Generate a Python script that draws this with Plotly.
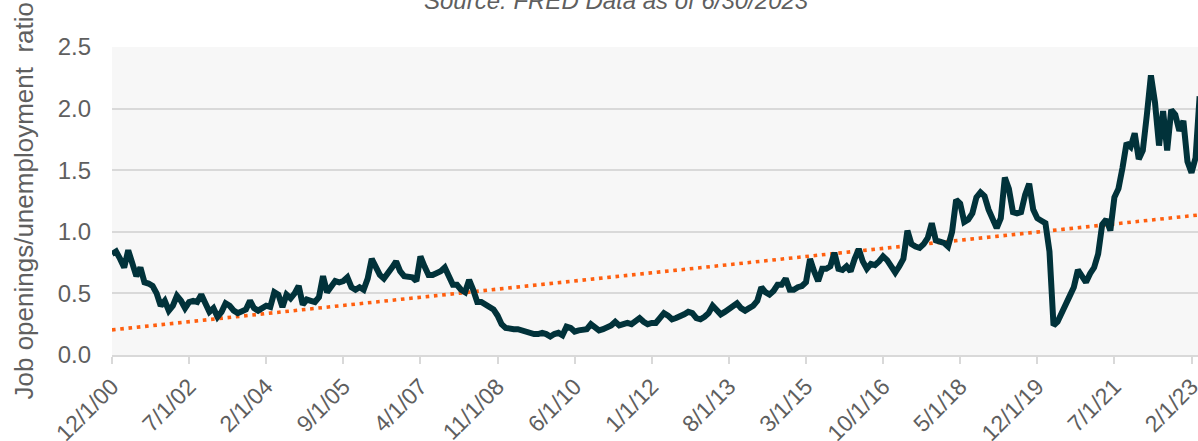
import numpy as np
import pandas as pd
import plotly.graph_objects as go

# Monthly categories, Dec 2000 .. Apr 2023
month_dates = pd.date_range("2000-12-01", "2023-04-01", freq="MS")
months = [f"{d.month}/{d.day}/{d.year % 100:02d}" for d in month_dates]

# Job openings / unemployment ratio
ratio = [
    0.82, 0.84, 0.78, 0.71, 0.85, 0.76, 0.64, 0.71, 0.59, 0.58, 0.56, 0.50,
    0.40, 0.44, 0.36, 0.40, 0.48, 0.44, 0.38, 0.43, 0.44, 0.43, 0.49, 0.42,
    0.35, 0.38, 0.31, 0.35, 0.42, 0.40, 0.36, 0.34, 0.36, 0.37, 0.44, 0.38,
    0.36, 0.38, 0.40, 0.39, 0.51, 0.49, 0.39, 0.49, 0.46, 0.50, 0.56, 0.41,
    0.45, 0.44, 0.43, 0.47, 0.64, 0.51, 0.55, 0.60, 0.59, 0.60, 0.63, 0.55,
    0.53, 0.55, 0.53, 0.62, 0.78, 0.70, 0.65, 0.62, 0.66, 0.71, 0.76, 0.68,
    0.64, 0.64, 0.63, 0.60, 0.80, 0.72, 0.65, 0.65, 0.66, 0.68, 0.71, 0.64,
    0.57, 0.57, 0.53, 0.51, 0.61, 0.53, 0.43, 0.43, 0.41, 0.38, 0.37, 0.32,
    0.25, 0.22, 0.21, 0.21, 0.21, 0.20, 0.19, 0.17, 0.17, 0.17, 0.18, 0.17,
    0.15, 0.17, 0.18, 0.16, 0.23, 0.22, 0.19, 0.20, 0.21, 0.21, 0.25, 0.23,
    0.20, 0.21, 0.22, 0.24, 0.27, 0.24, 0.25, 0.26, 0.25, 0.27, 0.30, 0.27,
    0.25, 0.26, 0.26, 0.30, 0.34, 0.32, 0.29, 0.30, 0.31, 0.33, 0.35, 0.34,
    0.30, 0.29, 0.31, 0.34, 0.40, 0.37, 0.33, 0.35, 0.37, 0.39, 0.42, 0.38,
    0.36, 0.38, 0.40, 0.44, 0.55, 0.51, 0.49, 0.52, 0.57, 0.57, 0.62, 0.53,
    0.53, 0.55, 0.56, 0.59, 0.78, 0.68, 0.60, 0.70, 0.70, 0.72, 0.83, 0.70,
    0.69, 0.72, 0.68, 0.78, 0.86, 0.76, 0.70, 0.74, 0.73, 0.76, 0.80, 0.77,
    0.72, 0.67, 0.72, 0.78, 1.01, 0.90, 0.88, 0.87, 0.90, 0.95, 1.07, 0.93,
    0.92, 0.91, 0.88, 1.00, 1.26, 1.23, 1.08, 1.10, 1.15, 1.28, 1.32, 1.29,
    1.18, 1.10, 1.03, 1.11, 1.44, 1.35, 1.16, 1.15, 1.16, 1.30, 1.39, 1.18,
    1.11, 1.09, 1.07, 0.84, 0.24, 0.27, 0.35, 0.42, 0.48, 0.55, 0.69, 0.64,
    0.59, 0.66, 0.71, 0.82, 1.06, 1.10, 1.01, 1.28, 1.35, 1.52, 1.72, 1.69,
    1.80, 1.59, 1.66, 1.95, 2.27, 2.05, 1.70, 1.98, 1.66, 1.99, 1.95, 1.82,
    1.90, 1.57, 1.48, 1.60, 2.10,
]

tick_labels = months[::19]
y_ticks = [0.0, 0.5, 1.0, 1.5, 2.0, 2.5]

title_text = "Source: FRED Data as of 6/30/2023"
y_title = "Job openings/unemployment\u00a0 ratio"

# linear trendline (least squares, like Excel's trendline)
idx = np.arange(len(ratio))
slope, intercept = np.polyfit(idx, np.array(ratio), 1)
trend = intercept + slope * idx

FONT = "Liberation Sans, Arial, sans-serif"
GREY = "#5f5f5f"
GRID = "#d9d9d9"

fig = go.Figure()
fig.add_trace(go.Scatter(
    x=months, y=trend, mode="lines",
    line=dict(color="#ff5f0f", width=3.6, dash="3.6px,4.7px"),
    hoverinfo="skip", showlegend=False,
))
fig.add_trace(go.Scatter(
    x=months, y=ratio, mode="lines",
    line=dict(color="#01323a", width=6),
    showlegend=False,
))

W, H = 1198, 441
L, R, T, B = 112, 0, 47, 86
fig.update_layout(
    width=W, height=H,
    margin=dict(l=L, r=R, t=T, b=B, pad=0, autoexpand=False),
    paper_bgcolor="white",
    plot_bgcolor="#f7f7f7",
    font=dict(family=FONT, color=GREY),
    showlegend=False,
)
fig.update_xaxes(
    type="category",
    range=[0, 267.6],
    automargin=False,
    tickmode="array", tickvals=tick_labels, ticktext=tick_labels,
    tickangle=-45,
    tickfont=dict(size=23, color=GREY, family=FONT),
    ticks="outside", ticklen=7, tickwidth=1.5, tickcolor=GRID,
    showline=True, linecolor=GRID, linewidth=2,
    showgrid=False, zeroline=False,
)
fig.update_yaxes(
    range=[0, 2.5],
    automargin=False,
    tickmode="array", tickvals=y_ticks, ticktext=[f"{v:.1f}" for v in y_ticks],
    tickfont=dict(size=24, color=GREY, family=FONT),
    ticks="", ticklabelstandoff=20,
    showgrid=True, gridcolor=GRID, gridwidth=1.6,
    zeroline=False, showline=False,
)

plot_h = H - T - B
plot_w = W - L - R

# y-axis title (rotated, centred on plot area)
fig.add_annotation(
    text=y_title, textangle=-90, showarrow=False,
    xref="paper", yref="paper",
    x=(23.5 - L) / plot_w, y=0.5,
    xanchor="center", yanchor="middle",
    font=dict(size=26, color=GREY, family=FONT),
)
# subtitle, mostly cut off at the top
fig.add_annotation(
    text=f"<i>{title_text}</i>", showarrow=False,
    xref="paper", yref="paper",
    x=(616.5 - L) / plot_w, y=(H - B - 0.5) / plot_h,
    xanchor="center", yanchor="middle",
    font=dict(size=24, color=GREY, family=FONT),
)

fig.write_html(
    "out.html",
    config={"displayModeBar": False},
    post_script="document.body.style.margin='0';document.body.style.overflow='hidden';",
)
